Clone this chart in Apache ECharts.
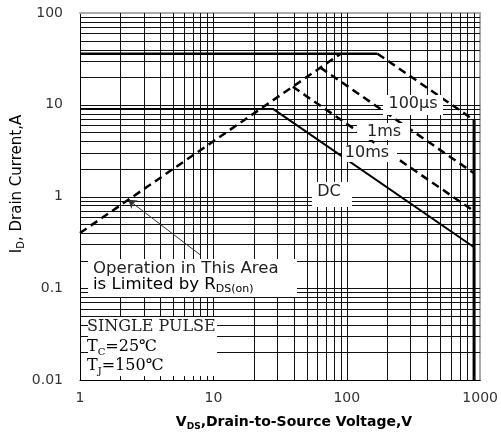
<!DOCTYPE html>
<html><head><meta charset="utf-8">
<script src="https://cdn.jsdelivr.net/npm/echarts@6/dist/echarts.min.js"></script>
<style>html,body{margin:0;padding:0;background:#fff}#c{width:501px;height:436px}</style>
</head><body><div id="c"></div>
<script>
// ---- tick labels ----
const xTickValues = [1, 10, 100, 1000];
const xTickLabels = ['1', '10', '100', '1000'];
const yTickValues = [0.01, 0.1, 1, 10, 100];
const yTickLabels = ['0.01', '0.1', '1', '10', '100'];
// ---- log grid ----
const gridMantissas = [1, 2, 3, 4, 5, 6, 7, 8, 9];
const xDecades = [1, 10, 100];
const yDecades = [0.01, 0.1, 1, 10];
// ---- curves (V, A) ----
const rdsV = [1, 90];          const rdsI = [0.4, 36];
const pulseV = [1, 170];       const pulseI = [36, 36];
const us100V = [170, 900];     const us100I = [36, 6.8];
const ms1V = [63.4, 900];      const ms1I = [25.4, 1.79];
const ms10V = [39.4, 900];     const ms10I = [15.7, 0.69];
const dcV = [1, 28, 900];      const dcI = [9, 9, 0.28];
const bvV = [900, 900];        const bvI = [6.8, 0.01];
const arrowFrom = [8, 0.23];   const arrowTo = [2.3, 0.92];

const zip = (xs, ys) => xs.map((x, i) => [x, ys[i]]);
const xGrid = xDecades.flatMap(d => gridMantissas.map(m => m * d)).filter(v => v > 1 && v < 1000);
const yGrid = yDecades.flatMap(d => gridMantissas.map(m => m * d)).filter(v => v > 0.01 && v < 100);

const chart = echarts.init(document.getElementById('c'), null, {renderer: 'canvas'});
const lbl = {fontFamily: 'DejaVu Sans', fontSize: 14, color: '#333'};
function line(data, width, dashed, z) {
  return {type: 'line', data, symbol: 'none', showSymbol: false, silent: true, z: z || 5,
    lineStyle: {color: '#000', width, type: dashed ? [8, 5] : 'solid', cap: 'butt'}, animation: false};
}
// crisp grid lines / ticks positioned through the axis scales (api.coord)
function gridRender(vertical, tickLen) {
  return function (params, api) {
    const cs = params.coordSys;
    const p = api.coord([api.value(0), api.value(1)]);
    let shape;
    if (vertical) {
      const x = Math.round(p[0]) + 0.5;
      shape = tickLen ? {x1: x, y1: cs.y + cs.height - tickLen, x2: x, y2: cs.y + cs.height}
                      : {x1: x, y1: cs.y, x2: x, y2: cs.y + cs.height};
    } else {
      const y = Math.round(p[1]) + 0.5;
      shape = tickLen ? {x1: cs.x, y1: y, x2: cs.x + tickLen, y2: y}
                      : {x1: cs.x, y1: y, x2: cs.x + cs.width, y2: y};
    }
    return {type: 'line', shape, style: {stroke: '#111', lineWidth: 1}};
  };
}
const option = {
  animation: false,
  grid: {left: 80, top: 13, width: 401, height: 367},
  xAxis: [
    {type: 'log', logBase: 10, min: 1, max: 1000, position: 'bottom',
     axisLine: {show: true, lineStyle: {color: '#000', width: 1}}, axisTick: {show: false},
     splitLine: {show: false},
     axisLabel: Object.assign({margin: 11, showMinLabel: true, showMaxLabel: true,
       formatter: v => xTickLabels[xTickValues.indexOf(Math.round(v))] || ''}, lbl)},
    {type: 'log', logBase: 10, min: 1, max: 1000, position: 'top',
     axisLine: {show: true, lineStyle: {color: '#aaa', width: 2}}, axisTick: {show: false},
     axisLabel: {show: false}, splitLine: {show: false}}
  ],
  yAxis: [
    {type: 'log', logBase: 10, min: 0.01, max: 100, position: 'left',
     axisLine: {show: true, lineStyle: {color: '#000', width: 1}}, axisTick: {show: false},
     splitLine: {show: false},
     axisLabel: Object.assign({margin: 17, showMinLabel: true, showMaxLabel: true,
       formatter: v => yTickLabels[Math.round(Math.log10(v)) + 2] || ''}, lbl)},
    {type: 'log', logBase: 10, min: 0.01, max: 100, position: 'right',
     axisLine: {show: true, lineStyle: {color: '#aaa', width: 2}}, axisTick: {show: false},
     axisLabel: {show: false}, splitLine: {show: false}}
  ],
  series: [
    {type: 'custom', silent: true, z: 1, clip: false, data: xGrid.map(v => [v, 1]), renderItem: gridRender(true, 0)},
    {type: 'custom', silent: true, z: 1, clip: false, data: yGrid.map(v => [10, v]), renderItem: gridRender(false, 0)},
    {type: 'custom', silent: true, z: 110, zlevel: 0, clip: false, data: xGrid.map(v => [v, 1]), renderItem: gridRender(true, 4)},
    {type: 'custom', silent: true, z: 110, zlevel: 0, clip: false, data: yGrid.map(v => [10, v]), renderItem: gridRender(false, 8)},
    line(zip(pulseV, pulseI), 2.5, false),
    line(zip(us100V, us100I), 2.5, true),
    line(zip(rdsV, rdsI), 2.5, true),
    line(zip(ms1V, ms1I), 2.5, true),
    line(zip(ms10V, ms10I), 2.5, true),
    line(zip(dcV, dcI), 2, false),
    line(zip(bvV, bvI), 3, false),
    {type: 'line', data: [], silent: true, z: 6, animation: false,
     markLine: {silent: true, symbol: ['none', 'arrow'], symbolSize: 8, animation: false,
       label: {show: false}, lineStyle: {color: '#333', width: 1, type: 'solid'},
       data: [[{coord: arrowFrom}, {coord: arrowTo}]]}}
  ],
  graphic: [
    {type: 'rect', z: 100, shape: {x: 81, y: 259, width: 216, height: 38}, style: {fill: '#fff'}},
    {type: 'rect', z: 100, shape: {x: 81, y: 317, width: 136, height: 62}, style: {fill: '#fff'}},
    {type: 'rect', z: 100, shape: {x: 383, y: 95, width: 60, height: 20}, style: {fill: '#fff'}},
    {type: 'rect', z: 100, shape: {x: 357, y: 123, width: 53, height: 17}, style: {fill: '#fff'}},
    {type: 'rect', z: 100, shape: {x: 342, y: 145, width: 55, height: 17}, style: {fill: '#fff'}},
    {type: 'rect', z: 100, shape: {x: 312, y: 182, width: 40, height: 25}, style: {fill: '#fff'}},
    {type: 'text', z: 101, x: 413, y: 104, style: {text: '100µs', align: 'center', verticalAlign: 'middle', font: '16px "DejaVu Sans"', fill: '#222'}},
    {type: 'text', z: 101, x: 384, y: 132, style: {text: '1ms', align: 'center', verticalAlign: 'middle', font: '16px "DejaVu Sans"', fill: '#222'}},
    {type: 'text', z: 101, x: 367, y: 153, style: {text: '10ms', align: 'center', verticalAlign: 'middle', font: '16px "DejaVu Sans"', fill: '#222'}},
    {type: 'text', z: 101, x: 329, y: 192, style: {text: 'DC', align: 'center', verticalAlign: 'middle', font: '16px "DejaVu Sans"', fill: '#222'}},
    {type: 'text', z: 101, x: 93, y: 269, style: {text: 'Operation in This Area', align: 'left', verticalAlign: 'middle', font: '16.6px "DejaVu Sans"', fill: '#222'}},
    {type: 'text', z: 101, x: 93, y: 285, style: {text: '{n|is Limited by R}{s|DS(on)}', align: 'left', verticalAlign: 'middle',
      rich: {n: {fontFamily: 'DejaVu Sans', fontSize: 16.6, lineHeight: 20, color: '#222'},
             s: {fontFamily: 'DejaVu Sans', fontSize: 11, lineHeight: 10, verticalAlign: 'bottom', color: '#222'}}}},
    {type: 'text', z: 101, x: 87, y: 327, style: {text: 'SINGLE PULSE', align: 'left', verticalAlign: 'middle', font: '16px "DejaVu Serif"', fill: '#222'}},
    {type: 'text', z: 101, x: 87, y: 347, style: {text: '{n|T}{s|C}{n|=25℃}', align: 'left', verticalAlign: 'middle',
      rich: {n: {fontFamily: 'DejaVu Serif', fontSize: 16, lineHeight: 20, color: '#222'},
             s: {fontFamily: 'DejaVu Serif', fontSize: 10, lineHeight: 10, verticalAlign: 'bottom', color: '#222'}}}},
    {type: 'text', z: 101, x: 87, y: 366, style: {text: '{n|T}{s|J}{n|=150℃}', align: 'left', verticalAlign: 'middle',
      rich: {n: {fontFamily: 'DejaVu Serif', fontSize: 16, lineHeight: 20, color: '#222'},
             s: {fontFamily: 'DejaVu Serif', fontSize: 10, lineHeight: 10, verticalAlign: 'bottom', color: '#222'}}}},
    {type: 'text', z: 101, x: 294, y: 422, style: {text: '{b|V}{s|DS}{b|,Drain-to-Source Voltage,V}', align: 'center', verticalAlign: 'middle',
      rich: {b: {fontFamily: 'DejaVu Sans', fontWeight: 'bold', fontSize: 14, lineHeight: 18, color: '#111'},
             s: {fontFamily: 'DejaVu Sans', fontWeight: 'bold', fontSize: 9, lineHeight: 9, verticalAlign: 'bottom', color: '#111'}}}},
    {type: 'text', z: 101, x: 17, y: 184, rotation: Math.PI / 2, style: {text: '{n|I}{s|D}{n|, Drain Current,A}', align: 'center', verticalAlign: 'middle',
      rich: {n: {fontFamily: 'DejaVu Sans', fontSize: 15, lineHeight: 18, color: '#111'},
             s: {fontFamily: 'DejaVu Sans', fontSize: 10, lineHeight: 9, verticalAlign: 'bottom', color: '#111'}}}}
  ]
};
chart.setOption(option);
</script>
</body></html>
